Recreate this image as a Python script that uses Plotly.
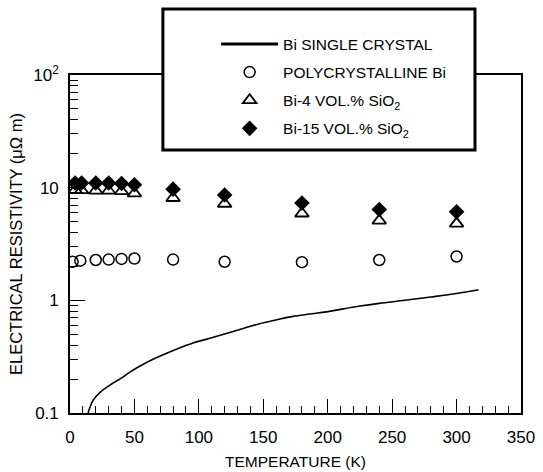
import plotly.graph_objects as go

# ---- data ----
T_single = [14, 18, 24, 31, 40, 47, 58, 70, 83, 96, 110, 122, 135, 147, 160, 173, 186, 199, 212, 225, 240, 260, 280, 300, 317]
rho_single = [0.10, 0.13, 0.155, 0.177, 0.205, 0.233, 0.275, 0.32, 0.37, 0.42, 0.465, 0.51, 0.565, 0.62, 0.67, 0.72, 0.755, 0.79, 0.84, 0.89, 0.94, 1.0, 1.07, 1.15, 1.24]

T_poly = [2, 8, 20, 30, 40, 50, 80, 120, 180, 240, 300]
rho_poly = [2.2, 2.25, 2.28, 2.3, 2.33, 2.35, 2.3, 2.2, 2.18, 2.28, 2.45]

T_comp = [4, 9, 20, 30, 40, 50, 80, 120, 180, 240, 300]
rho_bi4 = [9.5, 9.5, 9.4, 9.4, 9.3, 8.9, 8.1, 7.2, 5.9, 5.1, 4.8]
rho_bi15 = [11.0, 11.0, 11.0, 11.0, 10.9, 10.6, 9.7, 8.6, 7.3, 6.4, 6.1]

names = ["Bi SINGLE CRYSTAL", "POLYCRYSTALLINE Bi",
         "Bi-4 VOL.% SiO<sub>2</sub>", "Bi-15 VOL.% SiO<sub>2</sub>"]

x_ticks = [0, 50, 100, 150, 200, 250, 300, 350]
y_tickvals = [0.1, 1, 10, 100]
y_ticktext = ["0.1", "1", "10", "10<sup>2</sup>"]

FONT = "Liberation Sans, Arial, sans-serif"

fig = go.Figure()

# curve (no legend), plus a legend-only entry with thicker line
fig.add_trace(go.Scatter(x=T_single, y=rho_single, mode="lines", line_shape="spline",
                         line=dict(color="black", width=1.6), showlegend=False))
fig.add_trace(go.Scatter(x=[None], y=[None], mode="lines", name=names[0],
                         line=dict(color="black", width=3), legendgroup="a"))
fig.add_trace(go.Scatter(x=T_poly, y=rho_poly, mode="markers", name=names[1],
                         legendgroup="b",
                         marker=dict(symbol="circle-open", size=11, color="black",
                                     line=dict(width=1.5, color="black"))))
fig.add_trace(go.Scatter(x=T_comp, y=rho_bi4, mode="markers", name=names[2],
                         legendgroup="c",
                         marker=dict(symbol="triangle-up-open", size=12, color="black",
                                     line=dict(width=1.8, color="black"))))
fig.add_trace(go.Scatter(x=T_comp, y=rho_bi15, mode="markers", name=names[3],
                         legendgroup="d",
                         marker=dict(symbol="diamond", size=12, color="black",
                                     line=dict(width=0, color="black"))))

# legend frame
fig.add_shape(type="rect", xref="paper", yref="paper",
              x0=0.206, x1=0.898, y0=0.778, y1=1.195,
              fillcolor="white", line=dict(color="black", width=3), layer="above")

fig.update_layout(
    width=543, height=472,
    margin=dict(l=70, r=22, t=75, b=59, autoexpand=False),
    paper_bgcolor="white", plot_bgcolor="white",
    font=dict(family=FONT, color="black", size=16),
    legend=dict(x=0.324, y=1.141, xanchor="left", yanchor="top",
                bgcolor="rgba(0,0,0,0)", borderwidth=0,
                font=dict(size=15.5, family=FONT), itemwidth=57,
                tracegroupgap=5, traceorder="grouped"),
    xaxis=dict(range=[0, 350], tickvals=x_ticks, ticks="inside", ticklen=14,
               tickwidth=1.3, tickcolor="black", showline=True, linecolor="black",
               linewidth=1.6, mirror=True, showgrid=False, zeroline=False,
               automargin=False,
               tickfont=dict(size=17), ticklabelstandoff=8,
               minor=dict(dtick=10, ticks="inside", ticklen=7, tickwidth=1.2,
                          tickcolor="black", showgrid=False),
               title=dict(text="TEMPERATURE (K)", font=dict(size=15.5), standoff=10)),
    yaxis=dict(type="log", range=[-1, 2], tickvals=y_tickvals, ticktext=y_ticktext,
               ticks="inside", ticklen=15, tickwidth=1.3, tickcolor="black",
               showline=True, linecolor="black", linewidth=1.6, mirror=True,
               showgrid=False, zeroline=False, tickfont=dict(size=17),
               ticklabelstandoff=6, automargin=False,
               minor=dict(dtick="D1", ticks="inside", ticklen=8, tickwidth=1.2,
                          tickcolor="black", showgrid=False),
               title=dict(text="ELECTRICAL RESISTIVITY (μΩ m)", font=dict(size=16.5),
                          standoff=6)),
)

fig.write_html("out.html")
